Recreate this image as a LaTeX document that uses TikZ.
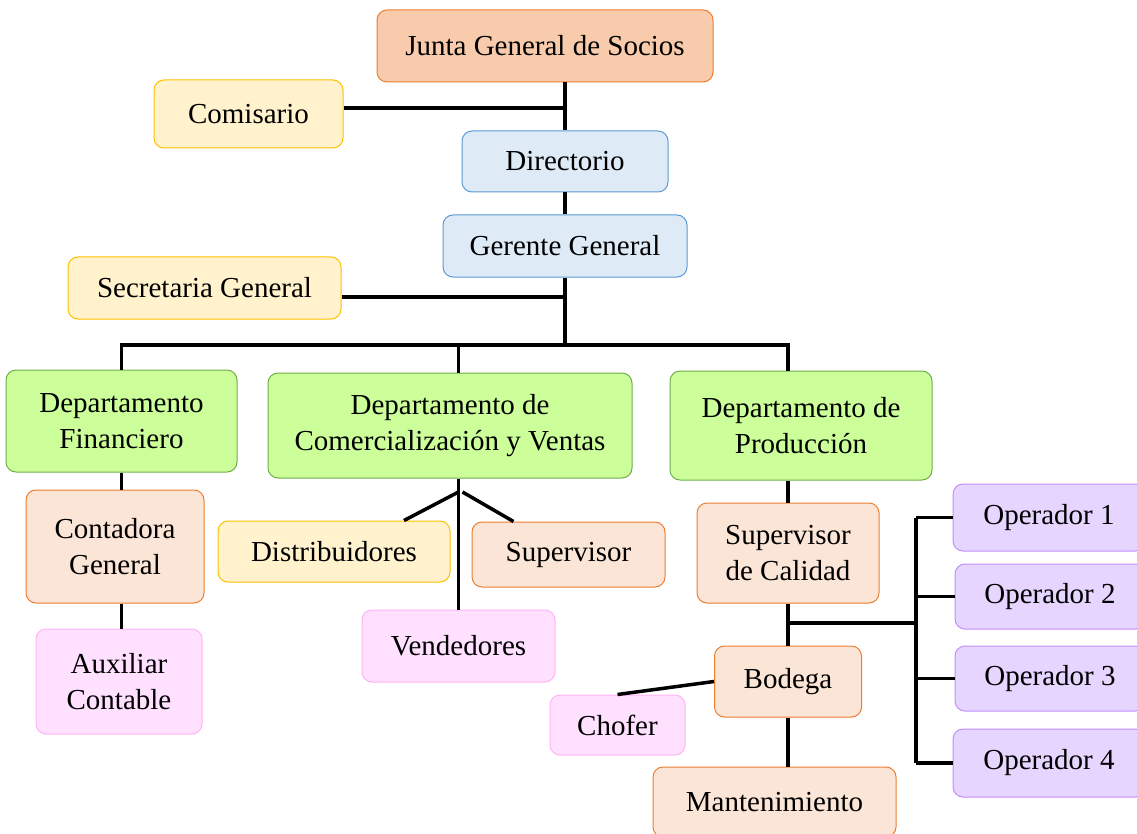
\documentclass[tikz,border=0pt]{standalone}
\usepackage{fontspec}
\setmainfont{Liberation Serif}
\usetikzlibrary{math}

\definecolor{juntafill}{HTML}{F8CBAD}
\definecolor{orangeline}{HTML}{ED7D31}
\definecolor{yellowfill}{HTML}{FFF2CC}
\definecolor{yellowline}{HTML}{FFC000}
\definecolor{bluefill}{HTML}{DEEBF7}
\definecolor{blueline}{HTML}{5B9BD5}
\definecolor{greenfill}{HTML}{CCFF99}
\definecolor{greenline}{HTML}{70AD47}
\definecolor{peachfill}{HTML}{FBE5D6}
\definecolor{pinkfill}{HTML}{FFE1FF}
\definecolor{pinkline}{HTML}{FFB3F5}
\definecolor{purplefill}{HTML}{E6D5FF}
\definecolor{purpleline}{HTML}{C58CFF}

\tikzset{
    box/.style={rounded corners=10pt, line width=1pt, inner sep=0pt, align=center,
        font=\fontsize{29}{36}\selectfont},
    junta/.style={box, fill=juntafill, draw=orangeline},
    yellowbox/.style={box, fill=yellowfill, draw=yellowline},
    bluebox/.style={box, fill=bluefill, draw=blueline},
    greenbox/.style={box, fill=greenfill, draw=greenline},
    peachbox/.style={box, fill=peachfill, draw=orangeline},
    pinkbox/.style={box, fill=pinkfill, draw=pinkline},
    purplebox/.style={box, fill=purplefill, draw=purpleline},
    link/.style={black, line width=3.5pt}
}

\begin{document}
\begin{tikzpicture}[x=1pt, y=-1pt]

% Position settings
\tikzmath{
    \XMain = 565;
    \XProd = 788;
    \XOps = 916;
    \YBus = 345;
    \YOps = 623;
}

\useasboundingbox (0,0) rectangle (1137,834);

% Draws boxes
\node [junta, minimum width=336, minimum height=72] (junta) at (545,46) {Junta General de Socios};
\node [yellowbox, minimum width=189, minimum height=68] (comisario) at (248.5,114) {Comisario};
\node [bluebox, minimum width=206, minimum height=61] (directorio) at (\XMain,161.5) {Directorio};
\node [bluebox, minimum width=244, minimum height=62] (gerente) at (\XMain,246) {Gerente General};
\node [yellowbox, minimum width=273, minimum height=62] (secretaria) at (204.5,288) {Secretaria General};

\node [greenbox, minimum width=231, minimum height=102] (financiero) at (121.5,421) {Departamento\\Financiero};
\node [greenbox, minimum width=364, minimum height=105] (comercial) at (450,425.5) {Departamento de\\Comercialización y Ventas};
\node [greenbox, minimum width=262, minimum height=109] (produccion) at (801,425.5) {Departamento de\\Producción};

\node [peachbox, minimum width=178, minimum height=113] (contadora) at (115,546.5) {Contadora\\General};
\node [pinkbox, minimum width=166, minimum height=105] (auxiliar) at (119,681.5) {Auxiliar\\Contable};

\node [yellowbox, minimum width=232, minimum height=61] (distribuidores) at (334,551.5) {Distribuidores};
\node [peachbox, minimum width=193, minimum height=65] (supervisor) at (568.5,554.5) {Supervisor};
\node [pinkbox, minimum width=193, minimum height=72] (vendedores) at (458.5,646) {Vendedores};

\node [peachbox, minimum width=182, minimum height=100] (calidad) at (\XProd,553) {Supervisor\\de Calidad};
\node [peachbox, minimum width=147, minimum height=71] (bodega) at (\XProd,681.5) {Bodega};
\node [pinkbox, minimum width=135, minimum height=60] (chofer) at (617.5,725) {Chofer};
\node [peachbox, minimum width=243, minimum height=70] (mantenimiento) at (774.5,802) {Mantenimiento};

\node [purplebox, minimum width=192, minimum height=67] (op1) at (1049,517.5) {Operador 1};
\node [purplebox, minimum width=190, minimum height=65] (op2) at (1050,596.5) {Operador 2};
\node [purplebox, minimum width=190, minimum height=65] (op3) at (1050,678.5) {Operador 3};
\node [purplebox, minimum width=192, minimum height=68] (op4) at (1049,763) {Operador 4};

% Helper points
\coordinate (bus) at (\XProd,\YBus);
\coordinate (split) at (458.5,492);
\coordinate (opbus) at (\XOps,\YOps);

% Draws upper lines
\draw [link] (directorio.north |- junta.south) -- (directorio.north);
\draw [link] ([yshift=6pt]comisario.east) -- ([yshift=6pt]comisario.east -| directorio.north);
\draw [link] (directorio.south) -- (gerente.north);
\draw [link] (gerente.south) -- (gerente.south |- bus);
\draw [link] ([yshift=-9pt]secretaria.east) -- ([yshift=-9pt]secretaria.east -| gerente.south);

% Draws department bus
\draw [link] (financiero.north) |- (bus) -- (bus |- produccion.north);
\draw [link] (vendedores |- bus) -- (vendedores |- comercial.north);

% Draws financial branch
\draw [link] (financiero.south) -- (contadora.north -| financiero.south);
\draw [link] (contadora.south -| financiero.south) -- (auxiliar.north -| financiero.south);

% Draws sales branch
\draw [link] (comercial.south -| split) -- (vendedores.north);
\draw [link] (split) -- ([xshift=70]distribuidores.north);
\draw [link] ([xshift=4]split) -- ([xshift=-55]supervisor.north);

% Draws production branch
\draw [link] (bus |- produccion.south) -- (calidad.north);
\draw [link] (calidad.south) -- (bodega.north);
\draw [link] (bodega.south) -- (bodega.south |- mantenimiento.north);
\draw [link] (bodega.west) -- (chofer.north);
\draw [link] (calidad.south |- opbus) -- ([xshift=2]opbus);
\draw [link] (op1.west -| opbus) -- (op4.west -| opbus);
\foreach \op in {op1,op2,op3,op4}
    \draw [link] (\op.west -| opbus) -- (\op.west);

\end{tikzpicture}
\end{document}
